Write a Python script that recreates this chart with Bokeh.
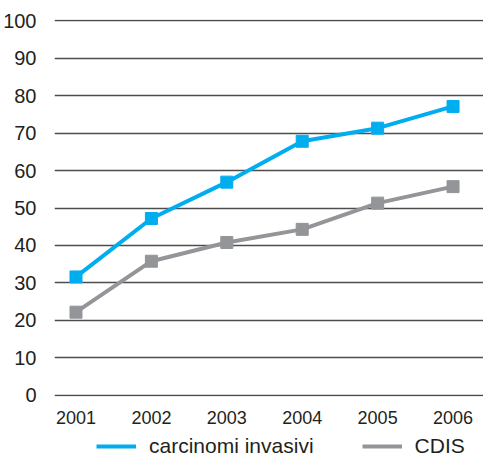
from bokeh.plotting import figure
from bokeh.models import Legend, LegendItem, FixedTicker, Range1d
from bokeh.layouts import column
from bokeh.embed import file_html
from bokeh.resources import INLINE

years = [2001, 2002, 2003, 2004, 2005, 2006]
invasivi = [31.6, 47.2, 56.9, 67.8, 71.3, 77.1]
cdis = [22.2, 35.8, 40.8, 44.3, 51.3, 55.7]
y_ticks = [0, 10, 20, 30, 40, 50, 60, 70, 80, 90, 100]
series_names = ["carcinomi invasivi", "CDIS"]

BLUE = "#00AEEF"
GRAY = "#939598"

p = figure(frame_width=429, frame_height=377, output_backend="svg", toolbar_location=None,
           x_range=Range1d(2000.715, 2006.404), y_range=Range1d(-0.3, 100.3))
p.min_border_left = 47
p.min_border_right = 0
p.min_border_top = 19
p.min_border_bottom = 34
p.outline_line_color = None
p.background_fill_color = "white"

p.line(years, invasivi, line_color=BLUE, line_width=4)
p.scatter(years, invasivi, marker="square", size=12, color=BLUE)
p.line(years, cdis, line_color=GRAY, line_width=4)
p.scatter(years, cdis, marker="square", size=12, color=GRAY)

p.yaxis.ticker = FixedTicker(ticks=y_ticks)
p.xaxis.ticker = FixedTicker(ticks=years)
p.ygrid.ticker = FixedTicker(ticks=y_ticks)
p.ygrid.grid_line_color = "#4d4d4d"
p.ygrid.grid_line_width = 1.5
p.xgrid.grid_line_color = None

for ax in (p.xaxis, p.yaxis):
    ax.axis_line_color = None
    ax.major_tick_line_color = None
    ax.minor_tick_line_color = None
    ax.major_label_text_font = "Liberation Sans"
    ax.major_label_text_color = "#231f20"
p.yaxis.major_label_text_font_size = "20px"
p.yaxis.major_label_standoff = 12
p.xaxis.major_label_text_font_size = "18px"
p.xaxis.major_label_standoff = 8

# legend strip below the chart (series lines lie outside its visible range)
lg = figure(width=476, height=30, output_backend="svg", toolbar_location=None,
            x_axis_type=None, y_axis_type=None, x_range=Range1d(0, 1), y_range=Range1d(0, 1))
lg.min_border_left = 0
lg.min_border_right = 0
lg.min_border_top = 0
lg.min_border_bottom = 0
lg.outline_line_color = None
lg.xgrid.grid_line_color = None
lg.ygrid.grid_line_color = None
k1 = lg.line(years, invasivi, line_color=BLUE, line_width=4)
k2 = lg.line(years, cdis, line_color=GRAY, line_width=4)

legend = Legend(items=[LegendItem(label=series_names[0], renderers=[k1]),
                       LegendItem(label=series_names[1], renderers=[k2])],
                orientation="horizontal", location=(42, 2))
legend.label_text_font = "Liberation Sans"
legend.label_text_font_size = "21px"
legend.label_text_color = "#231f20"
legend.glyph_width = 40
legend.glyph_height = 10
legend.label_height = 10
legend.spacing = 48
legend.label_standoff = 13
legend.border_line_color = None
legend.background_fill_alpha = 0
legend.padding = 0
legend.margin = 0
lg.add_layout(legend, "center")

layout = column(p, lg, spacing=0)
open("out.html", "w").write(file_html(layout, INLINE))
